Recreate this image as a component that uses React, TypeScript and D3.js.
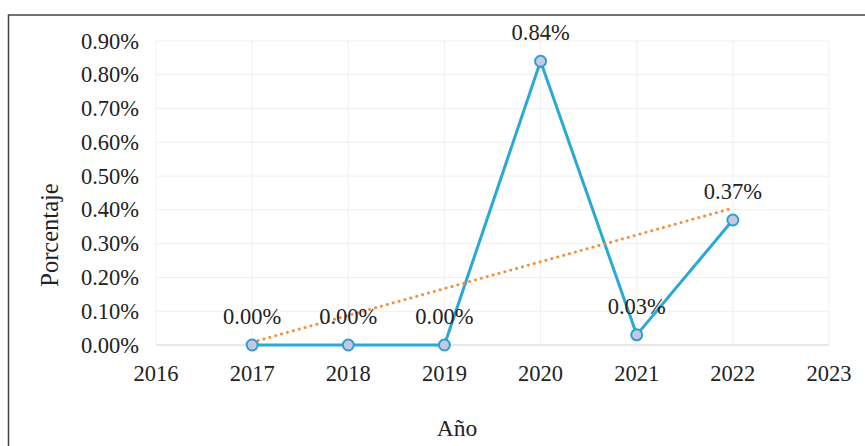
import React from "react";
import * as d3 from "d3";

// Annual percentage series
const years = [2017, 2018, 2019, 2020, 2021, 2022];
const values = [0.0, 0.0, 0.0, 0.84, 0.03, 0.37];
const yTicks = [0, 0.1, 0.2, 0.3, 0.4, 0.5, 0.6, 0.7, 0.8, 0.9];
const xTicks = [2016, 2017, 2018, 2019, 2020, 2021, 2022, 2023];

const W = 865;
const H = 446;
const FONT = "Liberation Serif";

export default function App() {
  const x = d3.scaleLinear().domain([2016, 2023]).range([156, 829]);
  const y = d3.scaleLinear().domain([0, 0.9]).range([345, 41]);

  const pts = years.map((yr, i) => ({ yr, v: values[i] }));
  const line = d3
    .line<{ yr: number; v: number }>()
    .x((d) => x(d.yr))
    .y((d) => y(d.v));

  // Least-squares linear trend over the series
  const xi = years.map((_, i) => i + 1);
  const mx = d3.mean(xi)!;
  const my = d3.mean(values)!;
  const sxy = d3.sum(xi, (v, i) => (v - mx) * (values[i] - my));
  const sxx = d3.sum(xi, (v) => (v - mx) ** 2);
  const slope = sxy / sxx;
  const icpt = my - slope * mx;
  const trend = [
    { yr: years[0], v: icpt + slope * xi[0] },
    { yr: years[years.length - 1], v: icpt + slope * xi[xi.length - 1] },
  ];

  const fmt = (v: number) => v.toFixed(2) + "%";

  return (
    <svg
      width={W}
      height={H}
      style={{ position: "absolute", left: 0, top: 0, background: "#fff" }}
      fontFamily={FONT}
    >
      <rect x={0} y={0} width={W} height={H} fill="#fff" />
      {/* outer frame */}
      <rect x={8.5} y={15} width={W + 10} height={H + 10} fill="none" stroke="#444" strokeWidth={1.5} />

      {/* gridlines */}
      {yTicks.map((t) => (
        <line key={"gy" + t} x1={x(2016)} x2={x(2023)} y1={y(t)} y2={y(t)} stroke="#efefef" strokeWidth={1} />
      ))}
      {xTicks.map((t) => (
        <line key={"gx" + t} x1={x(t)} x2={x(t)} y1={y(0.9)} y2={y(0)} stroke="#f1f1f1" strokeWidth={1} />
      ))}
      <line x1={x(2016)} x2={x(2023)} y1={y(0)} y2={y(0)} stroke="#d9d9d9" strokeWidth={1} />

      {/* y tick labels */}
      {yTicks.map((t) => (
        <text key={"ty" + t} x={139} y={y(t) + 7.5} textAnchor="end" fontSize={22.5} fill="#222">
          {fmt(t)}
        </text>
      ))}
      {/* x tick labels */}
      {xTicks.map((t) => (
        <text key={"tx" + t} x={x(t)} y={381} textAnchor="middle" fontSize={22.5} fill="#222">
          {t}
        </text>
      ))}

      {/* axis titles */}
      <text
        transform={`translate(58, ${235}) rotate(-90)`}
        textAnchor="middle"
        fontSize={24.5}
        fill="#222"
      >
        Porcentaje
      </text>
      <text x={457} y={436} textAnchor="middle" fontSize={23.5} fill="#222">
        Año
      </text>

      {/* series line */}
      <path d={line(pts)!} fill="none" stroke="#2aa8d8" strokeWidth={3} strokeLinejoin="round" />

      {/* trend line */}
      <path
        d={line(trend)!}
        fill="none"
        stroke="#f0913a"
        strokeWidth={3}
        strokeDasharray="0.1 6"
        strokeLinecap="round"
      />

      {/* markers */}
      {pts.map((p) => (
        <circle key={"m" + p.yr} cx={x(p.yr)} cy={y(p.v)} r={5.5} fill="#c8c8dc" stroke="#2a9fd6" strokeWidth={2} />
      ))}

      {/* data labels */}
      {pts.map((p) => (
        <text key={"l" + p.yr} x={x(p.yr)} y={y(p.v) - 21} textAnchor="middle" fontSize={22.5} fill="#222">
          {fmt(p.v)}
        </text>
      ))}
    </svg>
  );
}
